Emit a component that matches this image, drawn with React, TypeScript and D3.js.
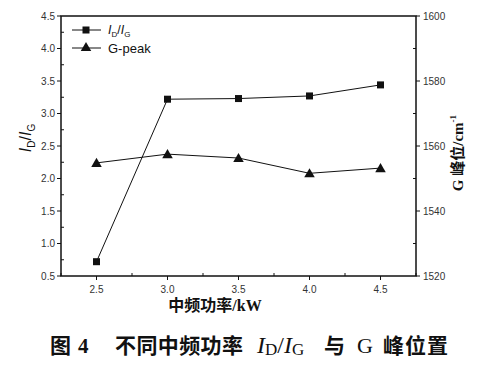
import React from "react";
import * as d3 from "d3";

const powers = [2.5, 3.0, 3.5, 4.0, 4.5];
const ratioValues = [0.72, 3.22, 3.23, 3.27, 3.44];
const gPeakValues = [1554.8, 1557.5, 1556.3, 1551.6, 1553.2];
const xTicks = [2.5, 3.0, 3.5, 4.0, 4.5];
const leftTicks = [0.5, 1.0, 1.5, 2.0, 2.5, 3.0, 3.5, 4.0, 4.5];
const rightTicks = [1520, 1540, 1560, 1580, 1600];

const W = 479, H = 371;
const L = 61, R = 416, T = 16, B = 276;

export default function App() {
  const x = d3.scaleLinear().domain([2.25, 4.75]).range([L, R]);
  const yL = d3.scaleLinear().domain([0.5, 4.5]).range([B, T]);
  const yR = d3.scaleLinear().domain([1520, 1600]).range([B, T]);
  const line1 = d3.line<number>().x((_, i) => x(powers[i])).y((d) => yL(d));
  const line2 = d3.line<number>().x((_, i) => x(powers[i])).y((d) => yR(d));
  const tri = d3.symbol().type(d3.symbolTriangle).size(48)();
  const tickFont = "Liberation Sans, Arial, sans-serif";
  const serif = "Liberation Serif, 'Noto Sans CJK SC', serif";
  const col = "#111";
  const minorX = d3.range(2.25, 4.76, 0.25).filter((v) => !xTicks.some((t) => Math.abs(t - v) < 1e-6));
  const minorL = d3.range(0.75, 4.5, 0.5);
  const minorR = d3.range(1530, 1600, 20);
  return (
    <svg width={W} height={H} style={{ position: "absolute", left: 0, top: 0, background: "#fff" }}>
      <rect x={L} y={T} width={R - L} height={B - T} fill="none" stroke={col} strokeWidth={1.5} />
      {xTicks.map((t) => (
        <g key={"x" + t}>
          <line x1={x(t)} x2={x(t)} y1={B} y2={B + 4} stroke={col} strokeWidth={1} />
          <text x={x(t)} y={B + 17} fontSize={10} fontFamily={tickFont} textAnchor="middle" fill="#333">{t.toFixed(1)}</text>
        </g>
      ))}
      {minorX.map((t) => (
        <line key={"mx" + t} x1={x(t)} x2={x(t)} y1={B} y2={B - 3} stroke={col} strokeWidth={1} />
      ))}
      {leftTicks.map((t) => (
        <g key={"l" + t}>
          <line x1={L} x2={L - 4} y1={yL(t)} y2={yL(t)} stroke={col} strokeWidth={1} />
          <text x={L - 6} y={yL(t) + 3.5} fontSize={10} fontFamily={tickFont} textAnchor="end" fill="#333">{t.toFixed(1)}</text>
        </g>
      ))}
      {minorL.map((t) => (
        <line key={"ml" + t} x1={L} x2={L + 3} y1={yL(t)} y2={yL(t)} stroke={col} strokeWidth={1} />
      ))}
      {rightTicks.map((t) => (
        <g key={"r" + t}>
          <line x1={R} x2={R + 4} y1={yR(t)} y2={yR(t)} stroke={col} strokeWidth={1} />
          <text x={R + 7} y={yR(t) + 3.5} fontSize={10} fontFamily={tickFont} textAnchor="start" fill="#333">{t}</text>
        </g>
      ))}
      {minorR.map((t) => (
        <line key={"mr" + t} x1={R} x2={R - 3} y1={yR(t)} y2={yR(t)} stroke={col} strokeWidth={1} />
      ))}
      <path d={line1(ratioValues) || ""} fill="none" stroke={col} strokeWidth={1} />
      <path d={line2(gPeakValues) || ""} fill="none" stroke={col} strokeWidth={1} />
      {ratioValues.map((v, i) => (
        <rect key={"s" + i} x={x(powers[i]) - 3.5} y={yL(v) - 3.5} width={7} height={7} fill={col} />
      ))}
      {gPeakValues.map((v, i) => (
        <path key={"t" + i} d={tri || ""} transform={`translate(${x(powers[i])},${yR(v) + 1})`} fill={col} />
      ))}
      {/* legend */}
      <line x1={72} x2={101} y1={30} y2={30} stroke={col} strokeWidth={1} />
      <rect x={82.5} y={26.5} width={7} height={7} fill={col} />
      <text x={108} y={34} fontSize={12.5} fontFamily={tickFont} fill={col}>
        <tspan fontStyle="italic">I</tspan>
        <tspan fontSize={8} dy={3}>D</tspan>
        <tspan dy={-3}>/</tspan>
        <tspan fontStyle="italic">I</tspan>
        <tspan fontSize={8} dy={3}>G</tspan>
      </text>
      <line x1={72} x2={101} y1={48} y2={48} stroke={col} strokeWidth={1} />
      <path d={tri || ""} transform="translate(86,48)" fill={col} />
      <text x={108} y={52.5} fontSize={13} fontFamily={tickFont} fill={col}>G-peak</text>
      {/* left axis label */}
      <text transform={`translate(31,138) rotate(-90)`} fontSize={16} fontFamily={tickFont} textAnchor="middle" fill={col}>
        <tspan fontStyle="italic">I</tspan>
        <tspan fontSize={10} dy={4}>D</tspan>
        <tspan dy={-4}>/</tspan>
        <tspan fontStyle="italic">I</tspan>
        <tspan fontSize={10} dy={4}>G</tspan>
      </text>
      {/* right axis label */}
      <text transform={`translate(463,153) rotate(-90)`} fontSize={15} fontWeight="bold" fontFamily={serif} textAnchor="middle" fill={col}>
        G 峰位/cm<tspan fontSize={9} dy={-7}>-1</tspan>
      </text>
      {/* x axis label */}
      <text x={215} y={311} fontSize={16} fontWeight="bold" fontFamily={serif} textAnchor="middle" fill={col}>中频功率/kW</text>
      {/* caption */}
      <g fontFamily={serif} fontWeight="bold" fill={col} fontSize={21}>
        <text x={50} y={353}>图</text>
        <text x={78} y={353}>4</text>
        <text x={115} y={353} letterSpacing={0.4}>不同中频功率</text>
        <text x={257} y={353} fontWeight="normal" fontSize={24}>
          <tspan fontStyle="italic">I</tspan>
          <tspan fontSize={17} dy={2}>D</tspan>
          <tspan dy={-2}>/</tspan>
          <tspan fontStyle="italic">I</tspan>
          <tspan fontSize={17} dy={2}>G</tspan>
        </text>
        <text x={324} y={353}>与</text>
        <text x={357} y={353} fontWeight="normal" fontSize={22}>G</text>
        <text x={383} y={353} letterSpacing={1}>峰位置</text>
      </g>
    </svg>
  );
}
